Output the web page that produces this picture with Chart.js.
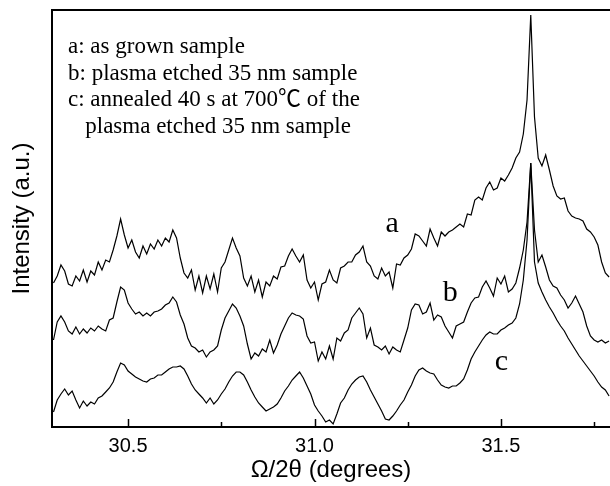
<!DOCTYPE html>
<html lang="en">
<head>
  <meta charset="UTF-8">
  <title>XRD Omega/2Theta scans</title>
  <script src="https://cdn.jsdelivr.net/npm/chart.js"></script>
  <style>
    html, body { margin: 0; padding: 0; background: #fff; overflow: hidden; }
    #wrap { width: 610px; height: 486px; }
  </style>
</head>
<body>
  <div id="wrap"><canvas id="xrd" width="610" height="486"></canvas></div>
  <script>
    // 2theta sampling points (degrees)
    const theta = [
      30.30, 30.31, 30.32, 30.33, 30.34, 30.35, 30.36, 30.37, 30.38, 30.39,
      30.40, 30.41, 30.42, 30.43, 30.44, 30.45, 30.46, 30.47, 30.48, 30.49,
      30.50, 30.51, 30.52, 30.53, 30.54, 30.55, 30.56, 30.57, 30.58, 30.59,
      30.60, 30.61, 30.62, 30.63, 30.64, 30.65, 30.66, 30.67, 30.68, 30.69,
      30.70, 30.71, 30.72, 30.73, 30.74, 30.75, 30.76, 30.77, 30.78, 30.79,
      30.80, 30.81, 30.82, 30.83, 30.84, 30.85, 30.86, 30.87, 30.88, 30.89,
      30.90, 30.91, 30.92, 30.93, 30.94, 30.95, 30.96, 30.97, 30.98, 30.99,
      31.00, 31.01, 31.02, 31.03, 31.04, 31.05, 31.06, 31.07, 31.08, 31.09,
      31.10, 31.11, 31.12, 31.13, 31.14, 31.15, 31.16, 31.17, 31.18, 31.19,
      31.20, 31.21, 31.22, 31.23, 31.24, 31.25, 31.26, 31.27, 31.28, 31.29,
      31.30, 31.31, 31.32, 31.33, 31.34, 31.35, 31.36, 31.37, 31.38, 31.39,
      31.40, 31.41, 31.42, 31.43, 31.44, 31.45, 31.46, 31.47, 31.48, 31.49,
      31.50, 31.51, 31.52, 31.53, 31.54, 31.55, 31.56, 31.57, 31.58, 31.59,
      31.60, 31.61, 31.62, 31.63, 31.64, 31.65, 31.66, 31.67, 31.68, 31.69,
      31.70, 31.71, 31.72, 31.73, 31.74, 31.75, 31.76, 31.77, 31.78, 31.79
    ];

    // a: as grown sample (offset intensity, a.u.)
    const curveA = [
      144, 151, 162, 156, 143, 141, 151, 146, 157, 145,
      156, 152, 165, 157, 167, 165, 177, 191, 208, 192,
      179, 187, 175, 169, 181, 173, 183, 178, 187, 181,
      189, 185, 197, 189, 169, 154, 149, 157, 137, 151,
      134, 151, 138, 153, 135, 159, 165, 177, 189, 179,
      171, 149, 141, 151, 135, 147, 130, 145, 141, 151,
      148, 160, 161, 171, 178, 171, 165, 172, 147, 139,
      145, 127, 143, 145, 157, 147, 144, 159, 161, 165,
      165, 172, 175, 181, 165, 161, 151, 148, 159, 151,
      155, 139, 163, 162, 169, 172, 178, 193, 191, 186,
      181, 198, 189, 181, 195, 191, 195, 197, 200, 203,
      200, 213, 212, 227, 230, 227, 239, 245, 237, 239,
      249, 246, 252, 259, 269, 275, 293, 327, 412, 310,
      269, 261, 272, 257, 241, 231, 228, 229, 216, 211,
      209, 208, 206, 198, 195, 190, 182, 165, 154, 150
    ];

    // b: plasma etched 35 nm sample
    const curveB = [
      87, 105, 111, 105, 96, 93, 100, 93, 98, 94,
      99, 96, 101, 98, 96, 107, 109, 125, 140, 137,
      124, 118, 113, 115, 111, 114, 111, 115, 116, 118,
      122, 124, 130, 125, 112, 103, 89, 81, 79, 75,
      77, 70, 75, 77, 81, 97, 109, 116, 123, 119,
      111, 101, 83, 68, 74, 71, 78, 75, 87, 74,
      82, 93, 101, 109, 114, 112, 111, 108, 91, 84,
      85, 66, 75, 68, 81, 68, 89, 86, 94, 97,
      109, 114, 119, 113, 89, 99, 82, 80, 77, 81,
      73, 80, 77, 75, 87, 99, 117, 123, 122, 113,
      115, 124, 107, 112, 110, 101, 95, 89, 101, 103,
      105, 115, 124, 129, 130, 140, 146, 139, 131, 149,
      143, 151, 135, 138, 144, 159, 177, 205, 264, 197,
      165, 172, 160, 147, 141, 139, 132, 127, 119, 124,
      131, 123, 115, 101, 91, 87, 85, 87, 84, 86
    ];

    // c: annealed 40 s at 700 C of the plasma etched sample
    const curveC = [
      15, 27, 33, 38, 32, 36, 27, 19, 26, 21,
      25, 23, 29, 31, 35, 39, 45, 55, 64, 62,
      56, 53, 50, 48, 46, 45, 48, 49, 52, 52,
      55, 58, 60, 60, 61, 58, 51, 43, 37, 33,
      29, 24, 29, 23, 27, 33, 38, 45, 51, 55,
      55, 52, 45, 37, 30, 24, 20, 16, 18, 20,
      23, 29, 36, 41, 47, 51, 55, 49, 41, 33,
      22, 16, 11, 5, 7, 3, 13, 24, 29, 37,
      43, 47, 50, 51, 45, 37, 30, 23, 16, 8,
      7, 11, 16, 22, 27, 35, 42, 51, 57, 59,
      56, 54, 53, 47, 42, 40, 39, 41, 41, 44,
      48, 57, 68, 75, 81, 87, 92, 95, 93, 93,
      97, 99, 102, 104, 109, 123, 147, 187, 264, 165,
      144, 135, 127, 120, 114, 107, 101, 96, 89, 83,
      77, 71, 66, 61, 56, 51, 45, 40, 37, 31
    ];

    const xTicks = [30.5, 30.75, 31.0, 31.25, 31.5, 31.75];
    const xTickLabels = { 30.5: "30.5", 31: "31.0", 31.5: "31.5" };

    const legendLines = [
      "a: as grown sample",
      "b: plasma etched 35 nm sample",
      "c: annealed 40 s at 700\u2103 of the",
      "   plasma etched 35 nm sample"
    ];
    // curve tags: [text, 2theta, intensity]
    const curveTags = [["a", 31.208, 203], ["b", 31.364, 134], ["c", 31.501, 65]];

    const toPoints = arr => arr.map((v, i) => ({ x: theta[i], y: v }));

    const frame = {
      id: "frame",
      afterDraw(chart) {
        const { ctx, chartArea, scales } = chart;
        ctx.save();
        ctx.strokeStyle = "#000";
        ctx.lineWidth = 2;
        ctx.beginPath();
        ctx.moveTo(chartArea.left, chartArea.top);
        ctx.lineTo(chartArea.right, chartArea.top);
        ctx.stroke();
        // inward ticks
        ctx.lineWidth = 1.5;
        xTicks.forEach(v => {
          const px = Math.round(scales.x.getPixelForValue(v)) + 0.5;
          const len = xTickLabels[v] ? 8 : 5;
          ctx.beginPath();
          ctx.moveTo(px, chartArea.bottom);
          ctx.lineTo(px, chartArea.bottom - len);
          ctx.stroke();
        });
        // notes
        ctx.fillStyle = "#000";
        ctx.textBaseline = "alphabetic";
        ctx.textAlign = "left";
        ctx.font = '23px "Liberation Serif", "Noto Sans CJK SC", serif';
        legendLines.forEach((t, i) => {
          ctx.fillText(t, 68, 53 + i * 26.7);
        });
        ctx.font = '30px "Liberation Serif", serif';
        ctx.textAlign = "center";
        ctx.textBaseline = "middle";
        curveTags.forEach(([t, x, y]) => {
          ctx.fillText(t, scales.x.getPixelForValue(x), scales.y.getPixelForValue(y));
        });
        ctx.restore();
      }
    };

    const lineStyle = { borderColor: "#000", borderWidth: 1.2, pointRadius: 0, tension: 0, fill: false };

    new Chart(document.getElementById("xrd"), {
      type: "line",
      data: {
        datasets: [
          { label: "a", data: toPoints(curveA), ...lineStyle },
          { label: "b", data: toPoints(curveB), ...lineStyle },
          { label: "c", data: toPoints(curveC), ...lineStyle }
        ]
      },
      options: {
        responsive: false,
        animation: false,
        layout: { padding: { top: 10, right: 0, left: 0, bottom: 0 } },
        plugins: { legend: { display: false }, tooltip: { enabled: false } },
        scales: {
          x: {
            type: "linear",
            min: 30.296,
            max: 31.7925,
            grid: { display: false },
            border: { display: true, color: "#000", width: 2 },
            afterBuildTicks: s => { s.ticks = xTicks.map(v => ({ value: v })); },
            afterFit: s => { s.height = 59; },
            ticks: {
              autoSkip: false,
              maxRotation: 0,
              padding: -1,
              color: "#000",
              font: { family: "Liberation Sans, Arial, sans-serif", size: 20 },
              callback: v => xTickLabels[v] || ""
            },
            title: {
              display: true,
              text: "\u03A9/2\u03B8 (degrees)",
              color: "#000",
              padding: { top: 0, bottom: 1 },
              font: { family: "Liberation Sans, Arial, sans-serif", size: 24 }
            }
          },
          y: {
            min: 0,
            max: 417,
            grid: { display: false },
            border: { display: true, color: "#000", width: 2 },
            ticks: { display: false },
            afterFit: s => { s.width = 52; },
            title: {
              display: true,
              text: "Intensity (a.u.)",
              color: "#000",
              padding: { top: 8, bottom: 0 },
              font: { family: "Liberation Sans, Arial, sans-serif", size: 24 }
            }
          }
        }
      },
      plugins: [frame]
    });
  </script>
</body>
</html>
